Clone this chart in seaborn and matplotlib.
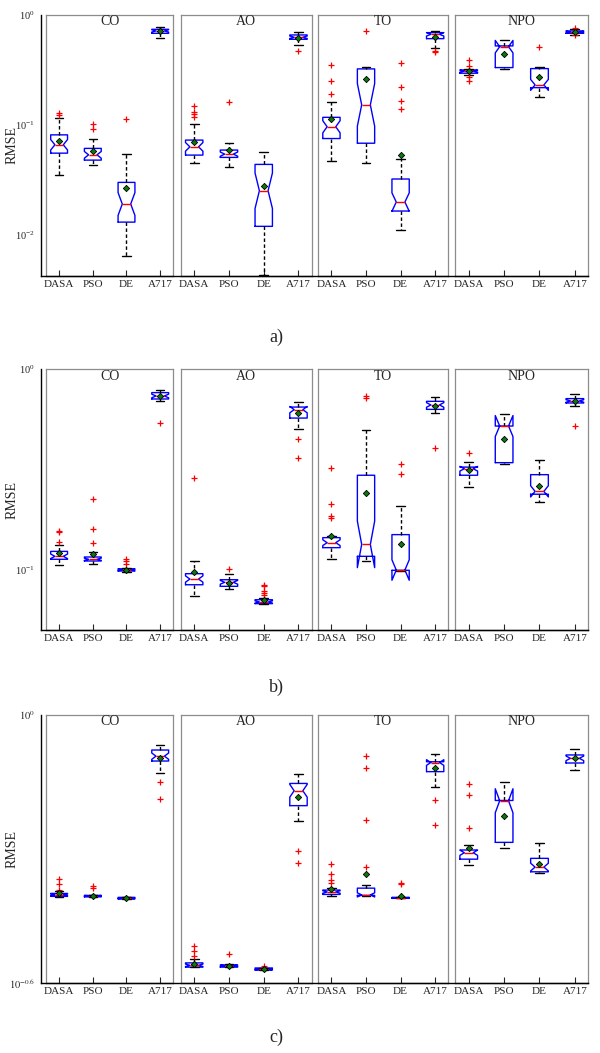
import numpy as np
import pandas as pd
import matplotlib
matplotlib.use('Agg')
import matplotlib.pyplot as plt
import seaborn as sns
from matplotlib.ticker import LogLocator, NullFormatter

algs = ['DASA', 'PSO', 'DE', 'A717']
problems = ['CO', 'AO', 'TO', 'NPO']
panel_names = ['a)', 'b)', 'c)']

# box statistics
# rows = CO, AO, TO, NPO ; columns = DASA, PSO, DE, A717

# ---- a) ----
a_lo = [[0.0346, 0.0433, 0.00644, 0.622],
        [0.0449, 0.0409, 0.0043, 0.534],
        [0.047, 0.0449, 0.0111, 0.498],
        [0.285, 0.323, 0.181, 0.66]]
a_q1 = [[0.0552, 0.0477, 0.013, 0.681],
        [0.053, 0.0505, 0.0119, 0.601],
        [0.075, 0.068, 0.0164, 0.609],
        [0.295, 0.332, 0.218, 0.681]]
a_med = [[0.0658, 0.0533, 0.019, 0.716],
         [0.063, 0.0541, 0.0251, 0.627],
         [0.096, 0.152, 0.0198, 0.667],
         [0.308, 0.515, 0.231, 0.70]]
a_q3 = [[0.081, 0.061, 0.0299, 0.741],
        [0.0726, 0.0589, 0.0436, 0.658],
        [0.117, 0.323, 0.0321, 0.691],
        [0.316, 0.523, 0.325, 0.716]]
a_hi = [[0.115, 0.0746, 0.0545, 0.783],
        [0.102, 0.0676, 0.0565, 0.695],
        [0.163, 0.339, 0.0488, 0.721],
        [0.323, 0.593, 0.339, 0.741]]
a_mean = [[0.0705, 0.058, 0.0266, 0.716],
          [0.0696, 0.0589, 0.0277, 0.618],
          [0.114, 0.264, 0.0526, 0.635],
          [0.308, 0.439, 0.275, 0.70]]
a_out = [[[0.129, 0.123], [0.102, 0.0914], [0.1127], []],
         [[0.147, 0.131, 0.125, 0.119], [0.162], [], [0.471]],
         [[0.351, 0.251, 0.19], [0.721], [0.366, 0.22, 0.164, 0.139], [0.474, 0.458]],
         [[0.39, 0.344, 0.273, 0.251], [], [0.512], [0.754, 0.653]]]

# ---- b) ----
b_lo = [[0.106, 0.107, 0.0977, 0.698],
        [0.0736, 0.0798, 0.0677, 0.506],
        [0.1135, 0.110, 0.0988, 0.605],
        [0.258, 0.337, 0.218, 0.656]]
b_q1 = [[0.1127, 0.1105, 0.0985, 0.711],
        [0.0841, 0.0826, 0.0677, 0.571],
        [0.1288, 0.1166, 0.0993, 0.631],
        [0.296, 0.342, 0.238, 0.679]]
b_med = [[0.1166, 0.1127, 0.0996, 0.736],
         [0.0898, 0.0865, 0.069, 0.629],
         [0.1364, 0.1337, 0.0996, 0.664],
         [0.319, 0.521, 0.246, 0.695]]
b_q3 = [[0.1234, 0.1157, 0.101, 0.765],
        [0.0955, 0.0891, 0.0708, 0.648],
        [0.1445, 0.296, 0.1496, 0.692],
        [0.325, 0.521, 0.298, 0.714]]
b_hi = [[0.1328, 0.1225, 0.1015, 0.788],
        [0.111, 0.0955, 0.0725, 0.687],
        [0.147, 0.496, 0.207, 0.728],
        [0.346, 0.601, 0.353, 0.75]]
b_mean = [[0.121, 0.1197, 0.0998, 0.733],
          [0.0973, 0.086, 0.0708, 0.605],
          [0.148, 0.242, 0.1337, 0.656],
          [0.313, 0.451, 0.263, 0.693]]
b_out = [[[0.1566, 0.154, 0.138], [0.2244, 0.159, 0.136], [0.1127, 0.110, 0.107], [0.542]],
         [[0.287], [0.101], [0.0835, 0.0826, 0.0783, 0.0764, 0.0745], [0.448, 0.36]],
         [[0.323, 0.212, 0.185, 0.182], [0.736, 0.719], [0.338, 0.301], [0.403]],
         [[0.382], [], [], [0.524]]]

# ---- c) ----
c_lo = [[0.392, 0.392, 0.387, 0.741],
        [0.273, 0.273, 0.269, 0.578],
        [0.394, 0.394, 0.389, 0.689],
        [0.461, 0.505, 0.444, 0.755]]
c_q1 = [[0.393, 0.392, 0.388, 0.789],
        [0.273, 0.273, 0.269, 0.627],
        [0.397, 0.395, 0.389, 0.747],
        [0.476, 0.519, 0.446, 0.781]]
c_med = [[0.396, 0.394, 0.389, 0.809],
         [0.2756, 0.275, 0.270, 0.677],
         [0.402, 0.396, 0.390, 0.783],
         [0.492, 0.643, 0.457, 0.80]]
c_q3 = [[0.399, 0.395, 0.391, 0.835],
        [0.279, 0.276, 0.2718, 0.703],
        [0.406, 0.410, 0.391, 0.786],
        [0.499, 0.644, 0.478, 0.814]]
c_hi = [[0.404, 0.396, 0.391, 0.855],
        [0.284, 0.278, 0.2718, 0.738],
        [0.410, 0.417, 0.391, 0.818],
        [0.513, 0.707, 0.518, 0.839]]
c_mean = [[0.399, 0.394, 0.389, 0.803],
          [0.278, 0.275, 0.270, 0.656],
          [0.409, 0.442, 0.394, 0.76],
          [0.505, 0.596, 0.464, 0.80]]
c_out = [[[0.430, 0.419, 0.407], [0.415, 0.410], [], [0.707, 0.649]],
         [[0.305, 0.296, 0.289], [0.292], [0.275], [0.496, 0.466]],
         [[0.465, 0.441, 0.428, 0.42], [0.809, 0.760, 0.582, 0.458], [0.422, 0.418], [0.646, 0.568]],
         [[0.701, 0.664, 0.560], [], [], []]]

panels = [(a_lo, a_q1, a_med, a_q3, a_hi, a_mean, a_out),
          (b_lo, b_q1, b_med, b_q3, b_hi, b_mean, b_out),
          (c_lo, c_q1, c_med, c_q3, c_hi, c_mean, c_out)]

sns.set_style('white')
plt.rcParams['font.family'] = ['Liberation Serif', 'DejaVu Serif']
plt.rcParams['mathtext.fontset'] = 'stix'

W, H = 600.0, 1053.0
fig = plt.figure(figsize=(6, 10.53), dpi=100)

# layout in pixels
frame_l = [46.3, 181.0, 318.3, 455.3]
frame_r = [173.0, 311.7, 448.3, 588.3]
top = [15.0, 369.3, 715.0]
bot = [276.0, 630.0, 983.3]
ylims = [(0.0042, 1.0), (0.05, 1.0), (10 ** -0.6, 1.0)]
label_y = [337, 687, 1037]


def rect(l, r, t, b):
    return [l / W, 1 - b / H, (r - l) / W, (b - t) / H]


def box_sample(lo, q1, med, q3, hi):
    # small table whose quartiles / extremes equal the read values (n = 30 runs)
    return np.concatenate([[lo], np.repeat(q1, 9), np.repeat(med, 10),
                           np.repeat(q3, 9), [hi]])


for p, (lo, q1, med, q3, hi, mean, out) in enumerate(panels):
    for j, prob in enumerate(problems):
        ax = fig.add_axes(rect(frame_l[j], frame_r[j], top[p], bot[p]))
        ax.set_facecolor('none')

        rows = []
        for k, alg in enumerate(algs):
            s = box_sample(lo[j][k], q1[j][k], med[j][k], q3[j][k], hi[j][k])
            rows.append(pd.DataFrame({'alg': alg, 'rmse': s}))
        box_df = pd.concat(rows, ignore_index=True)

        sns.boxplot(data=box_df, x='alg', y='rmse', order=algs, ax=ax,
                    log_scale=True, notch=True, whis=(0, 100), showfliers=False,
                    fill=False, width=0.5, linewidth=1.0,
                    boxprops={'color': 'blue', 'linewidth': 1.0},
                    medianprops={'color': 'red', 'linewidth': 1.0},
                    whiskerprops={'color': 'black', 'linestyle': (0, (2.5, 1.8)),
                                  'linewidth': 1.0},
                    capprops={'color': 'black', 'linewidth': 1.0})

        out_df = pd.DataFrame([(alg, v) for k, alg in enumerate(algs) for v in out[j][k]],
                              columns=['alg', 'rmse'])
        if len(out_df):
            sns.stripplot(data=out_df, x='alg', y='rmse', order=algs, ax=ax,
                          jitter=False, marker='+', color='red', linewidth=0.9,
                          size=5, zorder=4)

        mean_df = pd.DataFrame({'alg': algs, 'rmse': mean[j]})
        sns.stripplot(data=mean_df, x='alg', y='rmse', order=algs, ax=ax,
                      jitter=False, marker='D', color='#0a7a0a', edgecolor='black',
                      linewidth=0.6, size=3.2, zorder=5)

        ax.set_ylim(ylims[p])
        ax.set_xlim(-0.38, 3.38)
        ax.set_xlabel('')
        ax.set_ylabel('')
        ax.tick_params(axis='y', which='both', left=False, right=False, labelleft=False)
        ax.tick_params(axis='x', direction='in', length=4, width=0.8,
                       labelsize=8, pad=3, bottom=True)
        for s in ax.spines.values():
            s.set_color('#8c8c8c')
            s.set_linewidth(0.9)
        ax.spines['bottom'].set_color('black')
        ax.text(0.5, 1 - 6.7 / (bot[p] - top[p]), prob, transform=ax.transAxes,
                ha='center', va='center', fontsize=10)

    # outer axis carrying the shared log y axis
    oax = fig.add_axes(rect(40.7, 588.3, top[p], bot[p]))
    oax.set_facecolor('none')
    oax.set_yscale('log')
    oax.set_ylim(ylims[p])
    oax.set_xticks([])
    oax.spines['top'].set_visible(False)
    oax.spines['right'].set_visible(False)
    oax.spines['left'].set_color('black')
    oax.spines['bottom'].set_color('black')
    oax.spines['left'].set_linewidth(1.0)
    oax.spines['bottom'].set_linewidth(1.0)
    if p == 2:
        oax.set_yticks([10 ** -0.6, 1.0], ['$10^{-0.6}$', '$10^{0}$'])
    oax.yaxis.set_minor_locator(LogLocator(base=10, subs=np.arange(2, 10), numticks=50))
    oax.yaxis.set_minor_formatter(NullFormatter())
    oax.tick_params(axis='y', which='major', direction='in', length=5, width=0.8,
                    labelsize=7.5, pad=4)
    oax.tick_params(axis='y', which='minor', direction='in', length=3, width=0.7)
    oax.set_ylabel('RMSE', fontsize=10)
    oax.yaxis.set_label_coords(-0.041, 0.5)

    fig.text(276 / W, 1 - label_y[p] / H, panel_names[p], ha='center', va='center',
             fontsize=13)

fig.savefig('out.png', dpi=100)
